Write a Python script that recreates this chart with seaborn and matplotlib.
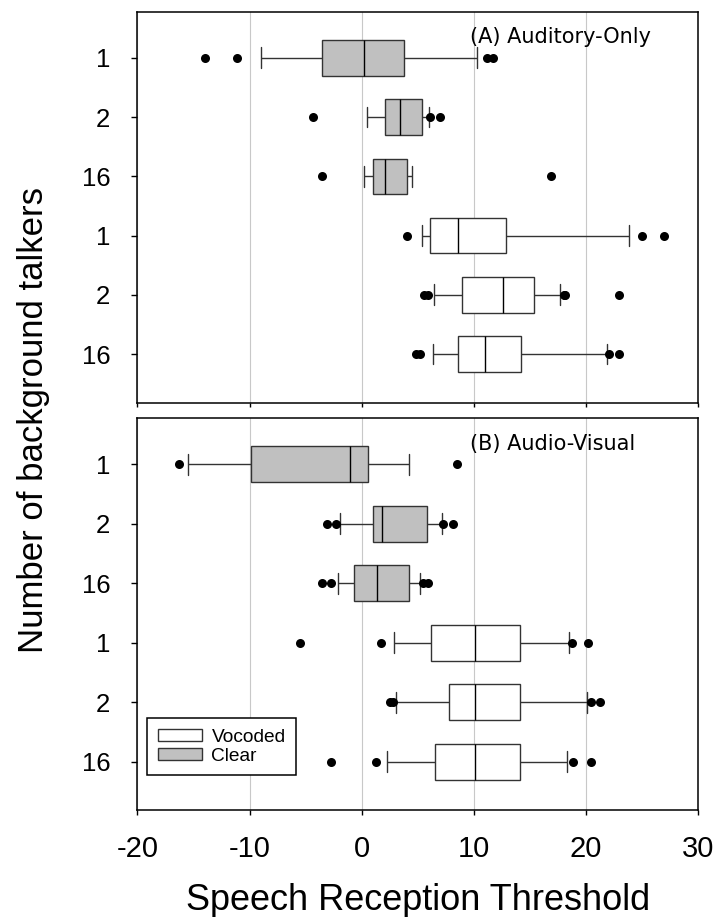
import pandas as pd
import matplotlib.pyplot as plt
import seaborn as sns
from matplotlib.patches import Patch


# Rows from top to bottom in each panel
conditions = ['Clear', 'Clear', 'Clear', 'Vocoded', 'Vocoded', 'Vocoded']
talkers = ['1', '2', '16', '1', '2', '16']
x_ticks = [-20, -10, 0, 10, 20, 30]

# (A) Auditory-Only: whisker ends (10th/90th pct), quartiles and median
a_low = [-9.0, 0.5, 0.2, 5.4, 6.5, 6.4]
a_q1 = [-3.5, 2.1, 1.0, 6.1, 9.0, 8.6]
a_med = [0.2, 3.4, 2.1, 8.6, 12.6, 11.0]
a_q3 = [3.8, 5.4, 4.1, 12.9, 15.4, 14.2]
a_high = [10.3, 6.0, 4.5, 23.9, 17.7, 21.9]
a_out = [[-14.0, -11.1, 11.2, 11.7],
         [-4.3, 6.1, 7.0],
         [-3.5, 16.9],
         [4.1, 25.0, 27.0],
         [5.6, 5.9, 18.1, 18.2, 23.0],
         [4.85, 5.25, 22.1, 23.0]]

# (B) Audio-Visual
b_low = [-15.5, -1.9, -2.1, 2.9, 3.1, 2.3]
b_q1 = [-9.9, 1.0, -0.7, 6.2, 7.8, 6.6]
b_med = [-1.0, 1.8, 1.4, 10.1, 10.1, 10.1]
b_q3 = [0.6, 5.8, 4.2, 14.1, 14.1, 14.1]
b_high = [4.2, 7.2, 5.2, 18.5, 20.1, 18.3]
b_out = [[-16.3, 8.5],
         [-3.1, -2.3, 7.3, 8.2],
         [-3.5, -2.7, 5.5, 5.9],
         [-5.5, 1.7, 18.8, 20.2],
         [2.5, 2.8, 20.5, 21.3],
         [-2.7, 1.3, 18.9, 20.5]]

row_keys = [c + ' ' + t for c, t in zip(conditions, talkers)]
colors = {'Clear': '#c0c0c0', 'Vocoded': 'white'}


def make_frames(low, q1, med, q3, high, outliers):
    # five values per row give exactly these quartiles with linear percentiles
    box_rows = []
    out_rows = []
    for i, key in enumerate(row_keys):
        for v in [low[i], q1[i], med[i], q3[i], high[i]]:
            box_rows.append({'row': key, 'cond': conditions[i], 'srt': v})
        for v in outliers[i]:
            out_rows.append({'row': key, 'srt': v})
    return pd.DataFrame(box_rows), pd.DataFrame(out_rows)


sns.set_style('ticks')
plt.rcParams['font.family'] = ['Liberation Sans', 'DejaVu Sans']
plt.rcParams['axes.unicode_minus'] = False
for k in ['text.color', 'axes.labelcolor', 'xtick.color', 'ytick.color']:
    plt.rcParams[k] = 'black'

fig = plt.figure(figsize=(7.16, 9.17), dpi=100)
ax_a = fig.add_axes([0.192, 0.5609, 0.7824, 0.4264])
ax_b = fig.add_axes([0.192, 0.1172, 0.7824, 0.4266])

panels = [
    (ax_a, make_frames(a_low, a_q1, a_med, a_q3, a_high, a_out), '(A) Auditory-Only', (5.82, -0.78)),
    (ax_b, make_frames(b_low, b_q1, b_med, b_q3, b_high, b_out), '(B) Audio-Visual', (5.80, -0.77)),
]

for ax, (box_df, out_df), title, ylim in panels:
    sns.boxplot(data=box_df, x='srt', y='row', hue='cond', order=row_keys,
                hue_order=['Vocoded', 'Clear'], palette=colors, dodge=False,
                width=0.6, whis=(0, 100), saturation=1, linecolor='#333333',
                linewidth=1.0, showfliers=False, legend=False, capwidths=0.35,
                medianprops={'color': 'black'}, ax=ax)
    sns.stripplot(data=out_df, x='srt', y='row', order=row_keys, jitter=False,
                  color='black', size=6.5, zorder=4, ax=ax)

    ax.set_xlim(-20, 30)
    ax.set_xticks(x_ticks)
    ax.set_yticks(range(len(talkers)))
    ax.set_yticklabels(talkers)
    ax.set_ylim(*ylim)
    ax.set_xlabel('')
    ax.set_ylabel('')
    ax.grid(axis='x', color='#c8c8c8', linewidth=0.8)
    ax.set_axisbelow(True)
    for s in ax.spines.values():
        s.set_visible(True)
        s.set_color('black')
        s.set_linewidth(1.1)
    ax.tick_params(axis='y', direction='out', length=4.5, width=1, pad=15,
                   labelsize=18.5)
    ax.text(9.7, 0.935, title, transform=ax.get_xaxis_transform(),
            ha='left', va='center', fontsize=15, family='DejaVu Sans')

ax_a.tick_params(axis='x', direction='out', length=3, width=1, labelbottom=False)
ax_b.tick_params(axis='x', direction='out', length=3.6, width=1, pad=15,
                 labelsize=21)

handles = [Patch(facecolor='white', edgecolor='#333333', label='Vocoded'),
           Patch(facecolor='#c0c0c0', edgecolor='#333333', label='Clear')]
leg = ax_b.legend(handles=handles, loc='lower left', bbox_to_anchor=(0.0175, 0.088),
                  borderaxespad=0, fontsize=13.8, handlelength=2.28, handleheight=0.6,
                  handletextpad=0.52, borderpad=0.55, labelspacing=0.1,
                  fancybox=False, framealpha=1)
leg.get_frame().set_edgecolor('black')
leg.get_frame().set_linewidth(1.1)

fig.text(0.5832, 0.0076, 'Speech Reception Threshold', ha='center', va='baseline',
         fontsize=26)
fig.text(0.0698, 0.542, 'Number of background talkers', ha='right', va='center',
         rotation=90, fontsize=25)

plt.savefig('out.png', dpi=100)
